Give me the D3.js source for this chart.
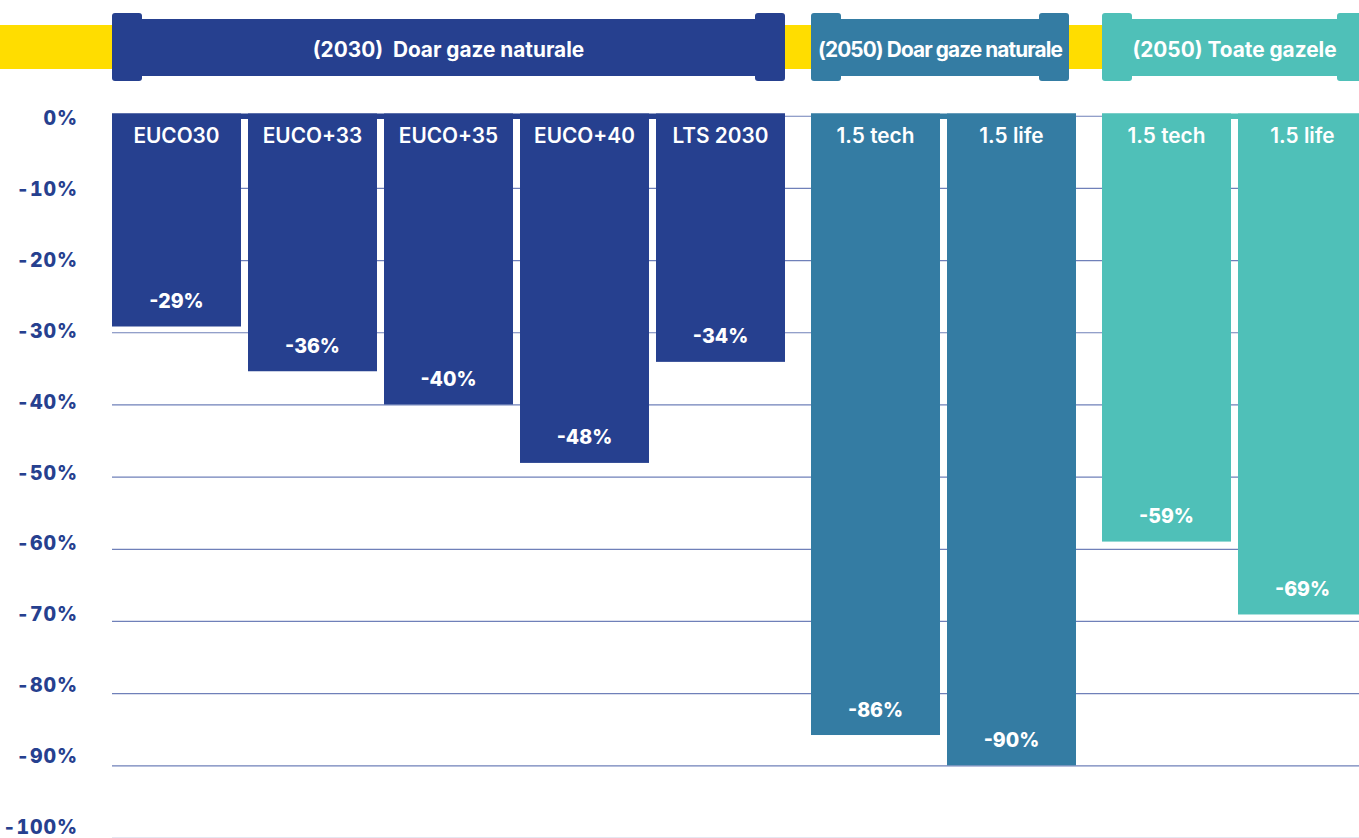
<!DOCTYPE html>
<html>
<head>
<meta charset="utf-8">
<script src="https://cdn.jsdelivr.net/npm/d3@7"></script>
<style>
  html, body { margin: 0; padding: 0; background: #ffffff; }
  svg { display: block; }
  text { font-family: Inter, "Open Sans", sans-serif; }
  .ylab { font-variant-numeric: tabular-nums; font-feature-settings: "tnum" 1; }
</style>
</head>
<body>
<script>
// ---- Data ----
const categories = ["EUCO30", "EUCO+33", "EUCO+35", "EUCO+40", "LTS 2030", "1.5 tech", "1.5 life", "1.5 tech", "1.5 life"];
const values = [-29.2, -35.4, -40.0, -48.1, -34.1, -85.8, -90.0, -59.0, -69.1];
const valueLabels = ["-29%", "-36%", "-40%", "-48%", "-34%", "-86%", "-90%", "-59%", "-69%"];
const groupOf = [0, 0, 0, 0, 0, 1, 1, 2, 2];
const groupNames = ["(2030)  Doar gaze naturale", "(2050) Doar gaze naturale", "(2050) Toate gazele"];
const groupColors = ["#26408f", "#347ca3", "#4fc0b8"];
const yTicks = [0, -10, -20, -30, -40, -50, -60, -70, -80, -90, -100];
const yTickLabels = ["0%", "-10%", "-20%", "-30%", "-40%", "-50%", "-60%", "-70%", "-80%", "-90%", "-100%"];

const W = 1359, H = 838;
const navy = "#26408f";
const yellow = "#ffdd00";

const svg = d3.select("body").append("svg").attr("width", W).attr("height", H);

const y = d3.scaleLinear().domain([0, -100]).range([115.75, 837.5]);
// tick labels in the reference sit on a slightly tighter spacing than the gridlines
const yLab = d3.scaleLinear().domain([0, -100]).range([125, 834]);
const xb = d3.scaleBand().domain(d3.range(categories.length)).range([112, 1329]).paddingInner(7 / 136).paddingOuter(0);
const groupGap = 19;
const bw = xb.bandwidth();
const xPos = i => xb(i) + groupOf[i] * groupGap;

// gridlines
const grid = svg.append("g")
  .attr("transform", "translate(112,0)")
  .call(d3.axisLeft(y).tickValues(yTicks).tickSize(-(W - 112)).tickFormat(""));
grid.select(".domain").remove();
grid.selectAll(".tick line")
  .attr("stroke", d => d === -100 ? "#c9cfe3" : "#6f80b9")
  .attr("stroke-width", 1.2);

// y labels
svg.append("g").selectAll("text").data(yTicks).join("text")
  .attr("class", "ylab")
  .attr("x", 78)
  .attr("y", d => yLab(d))
  .attr("text-anchor", "end")
  .attr("fill", navy)
  .attr("font-size", 19.5)
  .attr("font-weight", 800)
  .attr("letter-spacing", "0.9px")
  .text((d, i) => yTickLabels[i]);

// top banner: yellow strip
svg.append("rect").attr("x", 0).attr("y", 25).attr("width", W).attr("height", 44).attr("fill", yellow);

const groups = groupNames.map((name, g) => {
  const idx = d3.range(categories.length).filter(i => groupOf[i] === g);
  const x0 = d3.min(idx, i => xPos(i));
  const x1 = d3.max(idx, i => xPos(i) + bw);
  return { name, g, x0, x1, barEnd: x1 };
});
// group 2 banner is slightly narrower in the reference
groups[1].x1 -= 7;

const bannerG = svg.append("g");
groups.forEach(gr => {
  const c = groupColors[gr.g];
  bannerG.append("rect").attr("x", gr.x0).attr("y", 19).attr("width", gr.x1 - gr.x0).attr("height", 57).attr("fill", c);
  bannerG.append("rect").attr("x", gr.x0).attr("y", 13).attr("width", 30).attr("height", 68).attr("rx", 3).attr("fill", c);
  bannerG.append("rect").attr("x", gr.x1 - 30).attr("y", 13).attr("width", 30).attr("height", 68).attr("rx", 3).attr("fill", c);
  bannerG.append("text")
    .attr("x", (gr.x0 + gr.x1) / 2)
    .attr("y", 56.5)
    .attr("text-anchor", "middle")
    .attr("fill", "#ffffff")
    .attr("font-size", 20.8)
    .attr("font-weight", 700)
    .attr("letter-spacing", gr.g === 1 ? "-0.9px" : "0px")
    .style("white-space", "pre")
    .text(gr.name);
});

// group strips at top of bars (connect bars within a group)
svg.append("g").selectAll("rect").data(groups).join("rect")
  .attr("x", d => d.x0)
  .attr("y", y(0) - 2.25)
  .attr("width", d => d.barEnd - d.x0)
  .attr("height", 5.5)
  .attr("fill", d => groupColors[d.g]);

// bars
const idxs = d3.range(categories.length);
svg.append("g").selectAll("rect").data(idxs).join("rect")
  .attr("x", i => xPos(i))
  .attr("y", y(0) - 2.25)
  .attr("width", bw)
  .attr("height", i => y(values[i]) - y(0) + 2.25)
  .attr("fill", i => groupColors[groupOf[i]]);

// category labels
svg.append("g").selectAll("text").data(idxs).join("text")
  .attr("x", i => xPos(i) + bw / 2)
  .attr("y", 143)
  .attr("text-anchor", "middle")
  .attr("fill", "#ffffff")
  .attr("font-size", 20.8)
  .attr("font-weight", 600)
  .text(i => categories[i]);

// value labels
svg.append("g").selectAll("text").data(idxs).join("text")
  .attr("x", i => xPos(i) + bw / 2)
  .attr("y", i => y(values[i]) - 18.5)
  .attr("text-anchor", "middle")
  .attr("fill", "#ffffff")
  .attr("font-size", 19.5)
  .attr("font-weight", 800)
  .text(i => valueLabels[i]);
</script>
</body>
</html>
